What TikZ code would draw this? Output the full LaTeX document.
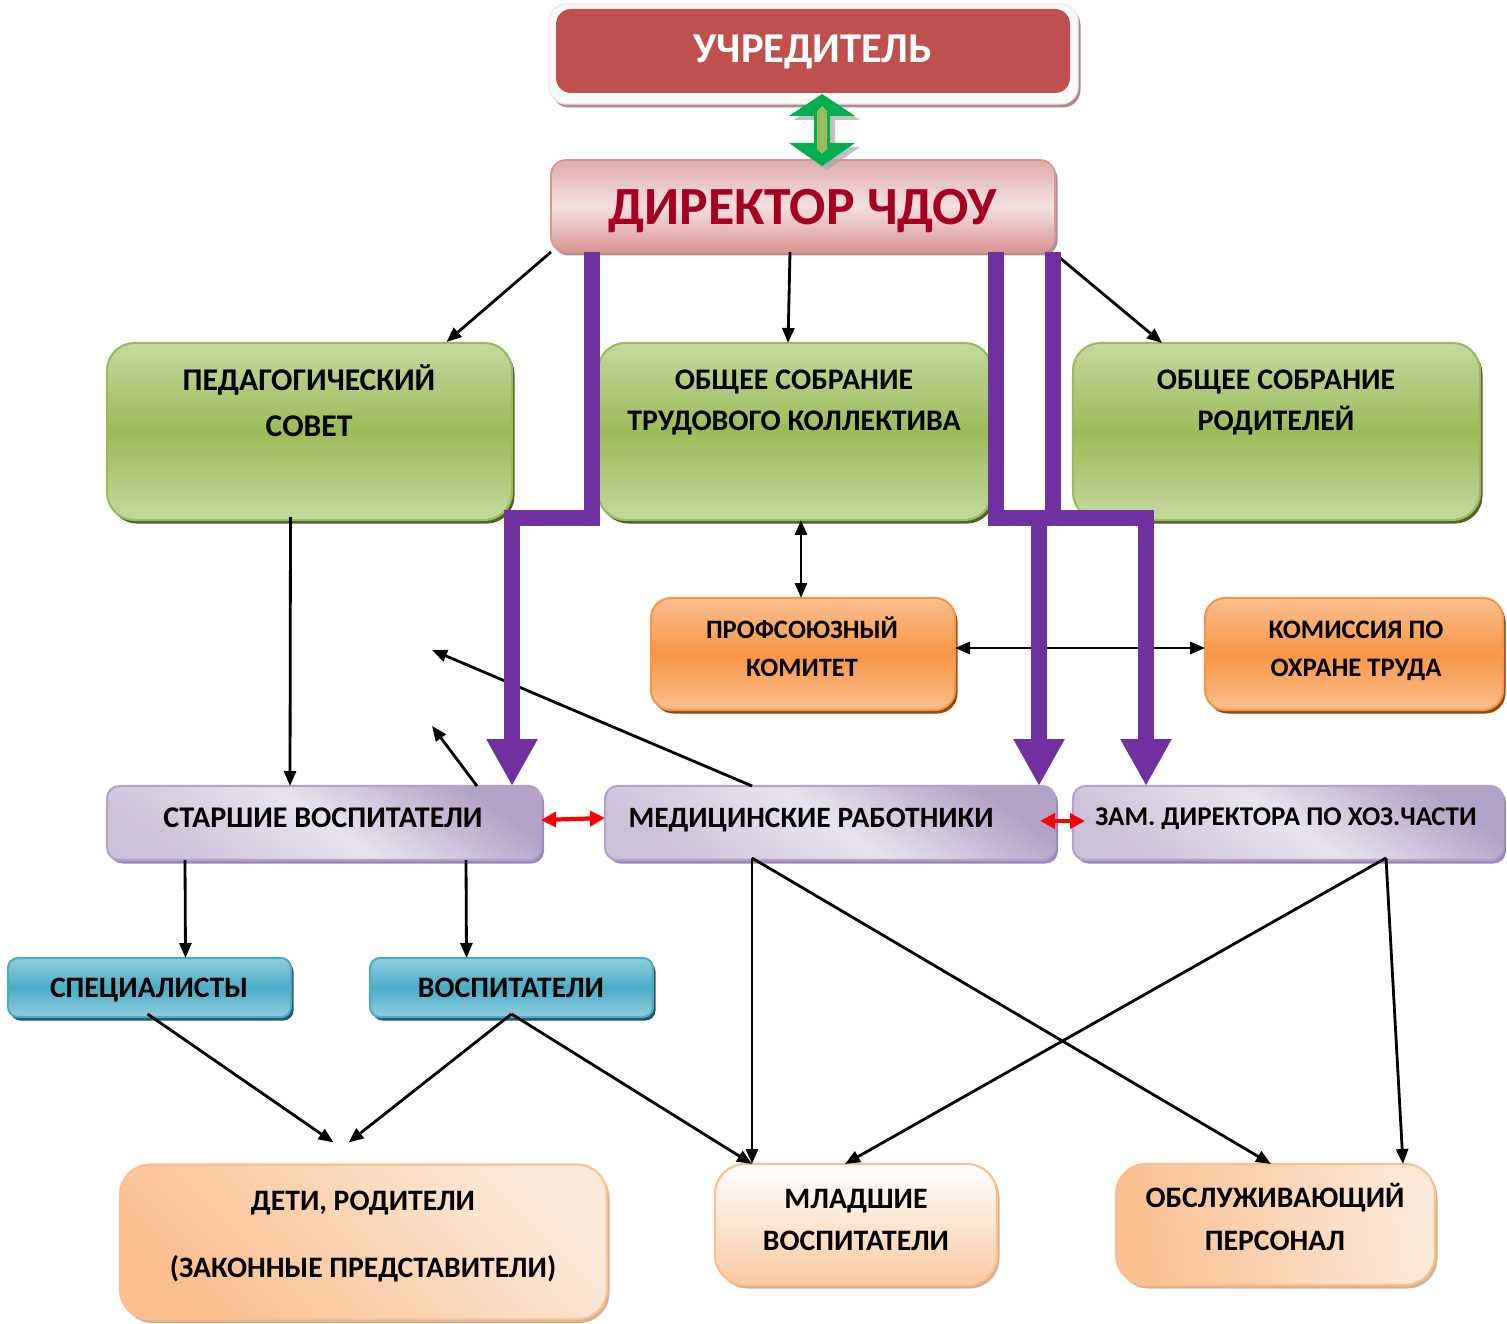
\documentclass[tikz,border=0pt]{standalone}
\usepackage{fontspec}
\setmainfont{Carlito}
\usetikzlibrary{arrows.meta,shadows,calc}
\definecolor{uchred}{HTML}{C0504D}
\definecolor{dirtxt}{HTML}{A50021}
\definecolor{grL}{HTML}{C6D9A0}
\definecolor{grM}{HTML}{9BBB59}
\definecolor{grS}{HTML}{4F6228}
\definecolor{orL}{HTML}{FAC090}
\definecolor{orM}{HTML}{F79646}
\definecolor{orS}{HTML}{984807}
\definecolor{puL}{HTML}{E8E4EF}
\definecolor{puM}{HTML}{CCC1DA}
\definecolor{puB}{HTML}{B3A2C7}
\definecolor{puS}{HTML}{9C88B8}
\definecolor{blL}{HTML}{93CDDD}
\definecolor{blM}{HTML}{4BACC6}
\definecolor{blS}{HTML}{215968}
\definecolor{peL}{HTML}{FDEADA}
\definecolor{peM}{HTML}{F9BF8E}
\definecolor{peS}{HTML}{D8B090}
\definecolor{dirL}{HTML}{F3E0DF}
\definecolor{dirM}{HTML}{D99694}
\definecolor{purp}{HTML}{7030A0}
\definecolor{arrG}{HTML}{00B050}
\begin{document}
\begin{tikzpicture}[x=0.02cm,y=-0.02cm,
  bx/.style 2 args={minimum width=#1*0.02cm, minimum height=#2*0.02cm, inner sep=0pt, outer sep=0pt},
  greenbox/.style={rounded corners=0.55cm, draw=grM, line width=1.2pt, top color=grL, bottom color=grL, middle color=grM,
     drop shadow={shadow xshift=0.05cm, shadow yshift=-0.07cm, fill=grS, opacity=1}},
  orangebox/.style={rounded corners=0.4cm, draw=orM, line width=1.2pt, top color=orL, bottom color=orL, middle color=orM,
     drop shadow={shadow xshift=0.05cm, shadow yshift=-0.07cm, fill=orS, opacity=1}},
  purplebox/.style={rounded corners=0.25cm, draw=puB, line width=1.2pt, top color=puB, bottom color=puM, middle color=puL, shading angle=-35,
     drop shadow={shadow xshift=0.06cm, shadow yshift=-0.07cm, fill=puS, opacity=1}},
  bluebox/.style={rounded corners=0.2cm, draw=blM, line width=1.2pt, top color=blL, bottom color=blL, middle color=blM,
     drop shadow={shadow xshift=0.05cm, shadow yshift=-0.07cm, fill=blS, opacity=1}},
  peachbox/.style={rounded corners=0.6cm, draw=peM, line width=1.2pt, shading=axis, left color=peM, right color=peL, shading angle=#1,
     drop shadow={shadow xshift=0.05cm, shadow yshift=-0.07cm, fill=peS, opacity=1}},
  lbl/.style={anchor=base, inner sep=0pt, font=\bfseries\fontsize{#1}{#1}\selectfont},
  conn/.style={line width=1.6pt, -{Triangle[width=0.24cm,length=0.3cm]}},
  dconn/.style={line width=1.6pt, {Triangle[width=0.24cm,length=0.3cm]}-{Triangle[width=0.24cm,length=0.3cm]}},
  rconn/.style={line width=2.4pt, red, {Triangle[width=0.3cm,length=0.3cm]}-{Triangle[width=0.3cm,length=0.3cm]}},
  pconn/.style={line width=0.32cm, purp, line join=miter, -{Triangle[width=0.96cm,length=0.94cm]}}
]
\useasboundingbox (0,0) rectangle (1507,1324);

% ---- top boxes
\node[bx={529}{100}, rounded corners=0.35cm, fill=white!95!gray, draw=white!85!gray, line width=0.8pt,
   drop shadow={shadow xshift=0.05cm, shadow yshift=-0.07cm, fill=uchred!40!gray, opacity=0.8}] (uch) at (813.5,54) {};
\node[bx={514}{84}, rounded corners=0.3cm, fill=uchred] (uchin) at (813,51) {};
\node[lbl=24.2, text=white] (uchT) at (813,63) {УЧРЕДИТЕЛЬ};

\node[bx={504}{92}, rounded corners=0.3cm, draw=dirM, line width=1pt, top color=dirM!70!dirL, bottom color=dirM, middle color=dirL,
   drop shadow={shadow xshift=0.05cm, shadow yshift=-0.07cm, fill=dirM!60!gray, opacity=1}] (dir) at (803,206) {};
\node[lbl=30.6, text=dirtxt] (dirT) at (803,225) {ДИРЕКТОР ЧДОУ};

% green double arrow between учредитель and директор
\fill[gray!70, opacity=0.7] (827,98) -- (860,120) -- (835,120) -- (835,147) -- (860,147) -- (827,170) -- (794,147) -- (819,147) -- (819,120) -- (794,120) -- cycle;
\fill[arrG] (822,94) -- (855,116) -- (830,116) -- (830,143) -- (855,143) -- (822,166) -- (789,143) -- (814,143) -- (814,116) -- (789,116) -- cycle;
\fill[grM] (822,106) -- (827,111) -- (827,149) -- (822,154) -- (817,149) -- (817,111) -- cycle;

% ---- green boxes
\node[bx={405}{177}, greenbox] (ped) at (309.5,431.5) {};
\node[bx={394}{177}, greenbox] (obsh) at (795,431.5) {};
\node[bx={407}{177}, greenbox] (rod) at (1276.5,431.5) {};
\node[lbl=18] (ped1) at (309,390) {ПЕДАГОГИЧЕСКИЙ};
\node[lbl=18] (ped2) at (309,436) {СОВЕТ};
\node[lbl=17] (obsh1) at (794,389) {ОБЩЕЕ СОБРАНИЕ};
\node[lbl=17] (obsh2) at (794,430) {ТРУДОВОГО КОЛЛЕКТИВА};
\node[lbl=17] (rod1) at (1276,389) {ОБЩЕЕ СОБРАНИЕ};
\node[lbl=17] (rod2) at (1276,430) {РОДИТЕЛЕЙ};

% ---- orange boxes
\node[bx={304}{112}, orangebox] (prof) at (803,654) {};
\node[bx={298}{112}, orangebox] (kom) at (1354,654) {};
\node[lbl=15.1] (prof1) at (802,638) {ПРОФСОЮЗНЫЙ};
\node[lbl=15.1] (prof2) at (802,676) {КОМИТЕТ};
\node[lbl=15.2] (kom1) at (1356,638) {КОМИССИЯ ПО};
\node[lbl=15.2] (kom2) at (1356,676) {ОХРАНЕ ТРУДА};

% ---- purple boxes
\node[bx={434}{74}, purplebox] (star) at (324,823) {};
\node[bx={450}{74}, purplebox] (med) at (830,823) {};
\node[bx={430}{74}, purplebox] (zam) at (1288,823) {};
\node[lbl=17.1] (starT) at (323,827) {СТАРШИЕ ВОСПИТАТЕЛИ};
\node[lbl=16.8] (medT) at (811,827) {МЕДИЦИНСКИЕ РАБОТНИКИ};
\node[lbl=15.4] (zamT) at (1286,825) {ЗАМ. ДИРЕКТОРА ПО ХОЗ.ЧАСТИ};

% ---- blue boxes
\node[bx={283}{59}, bluebox] (spec) at (149.5,987.5) {};
\node[bx={283}{59}, bluebox] (vosp) at (511.5,987.5) {};
\node[lbl=16.9] (specT) at (149,997) {СПЕЦИАЛИСТЫ};
\node[lbl=16.9] (vospT) at (511,997) {ВОСПИТАТЕЛИ};

% ---- bottom boxes
\node[bx={487}{155}, peachbox=135] (deti) at (363.5,1242) {};
\node[bx={282}{121}, rounded corners=0.6cm, draw=peM, line width=1.2pt, top color=white, bottom color=peM!75!peL,
   drop shadow={shadow xshift=0.05cm, shadow yshift=-0.07cm, fill=peS, opacity=1}] (mlad) at (856,1224.5) {};
\node[bx={319}{121}, peachbox=100] (obsl) at (1275.5,1224.5) {};
\node[lbl=16.9] (deti1) at (363,1210) {ДЕТИ, РОДИТЕЛИ};
\node[lbl=16.9] (deti2) at (363,1277) {(ЗАКОННЫЕ ПРЕДСТАВИТЕЛИ)};
\node[lbl=16.9] (mlad1) at (856,1208) {МЛАДШИЕ};
\node[lbl=16.9] (mlad2) at (856,1250) {ВОСПИТАТЕЛИ};
\node[lbl=16.9] (obsl1) at (1275,1207) {ОБСЛУЖИВАЮЩИЙ};
\node[lbl=16.9] (obsl2) at (1275,1250) {ПЕРСОНАЛ};

% ---- thin connectors
\coordinate (fe1) at (432,726);
\coordinate (fe2) at (432,650);
\draw[conn] (dir.south west) -- ($(ped.north)+(137,-1)$);
\draw[conn] ($(dir.south)+(-13,0)$) -- ($(obsh.north)+(-7,0)$);
\draw[conn] ($(dir.south east)+(5,6)$) -- ($(rod.north west)+(89,0)$);
\draw[conn] ($(ped.south)+(-19,-3)$) -- ($(star.north)+(-34,0)$);
\draw[dconn] ($(obsh.south)+(6,0)$) -- ($(prof.north)+(-2,0)$);
\draw[dconn] ($(prof.east)+(0,-6)$) -- ($(kom.west)+(0,-6)$);
\draw[conn] ($(star.north east)+(-64,0)$) -- (fe1);
\draw[conn] ($(med.north)+(-78,0)$) -- (fe2);
\draw[rconn] ($(star.east)+(0,-3)$) -- ($(med.west)+(0,-5)$);
\draw[rconn] ($(med.east)+(-15,-2)$) -- ($(zam.west)+(12,-2)$);
\draw[conn] ($(star.south west)+(78,0)$) -- ($(spec.north)+(36,0)$);
\draw[conn] ($(star.south east)+(-75,0)$) -- ($(vosp.north)+(-45,0)$);
\draw[conn] ($(spec.south)+(-2,-3)$) -- ($(deti.north)+(-30,-22)$);
\draw[conn] ($(vosp.south)+(0,-3)$) -- ($(deti.north)+(-15,-22)$);
\draw[conn] ($(vosp.south)+(0,-3)$) -- ($(mlad.north west)+(37,0)$);
\draw[conn] ($(med.south)+(-78,-2)$) -- ($(mlad.north west)+(37,0)$);
\draw[conn] ($(med.south)+(-78,-2)$) -- ($(obsl.north west)+(155,0)$);
\draw[conn] ($(zam.south)+(98,-2)$) -- ($(mlad.north west)+(130,0)$);
\draw[conn] ($(zam.south)+(98,-2)$) -- ($(obsl.north east)+(-32,0)$);

% ---- purple thick connectors
\draw[pconn] ($(dir.south west)+(41,0)$) -- ++(0,266) -| ($(star.north east)+(-29,0)$);
\draw[pconn] ($(dir.south east)+(-59,0)$) -- ++(0,266) -| ($(med.north east)+(-16,0)$);
\draw[pconn] ($(dir.south east)+(-2,0)$) -- ++(0,266) -| ($(zam.north west)+(73,0)$);
\end{tikzpicture}
\end{document}
